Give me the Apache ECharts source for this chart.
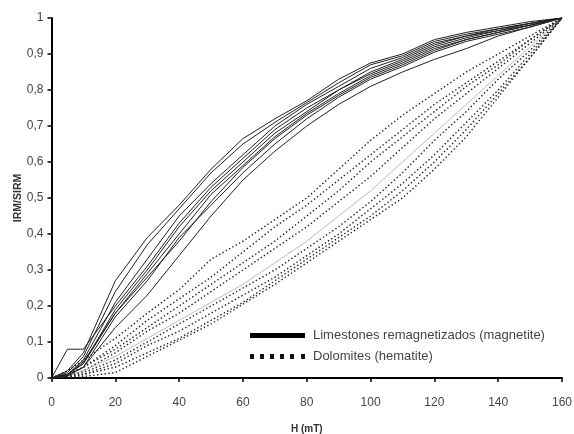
<!DOCTYPE html>
<html>
<head>
<meta charset="utf-8">
<script src="https://cdn.jsdelivr.net/npm/echarts@6/dist/echarts.min.js"></script>
<style>html,body{margin:0;padding:0;background:#fff}#c{width:574px;height:434px}</style>
</head>
<body>
<div id="c"></div>
<script>
// H values (mT)
const H = [0,5,10,20,30,40,50,60,70,80,90,100,110,120,130,140,150,160];
const xTicks = [0,20,40,60,80,100,120,140,160];
const yTicks = [0,0.1,0.2,0.3,0.4,0.5,0.6,0.7,0.8,0.9,1];

const magName = 'Limestones remagnetizados (magnetite)';
const hemName = 'Dolomites (hematite)';

// Limestones remagnetizados (magnetite) — IRM/SIRM
const mag1 = [0,0.02,0.07,0.27,0.39,0.48,0.58,0.665,0.72,0.77,0.83,0.875,0.90,0.94,0.96,0.975,0.99,1];
const mag2 = [0,0.015,0.06,0.24,0.37,0.47,0.57,0.65,0.71,0.765,0.82,0.87,0.895,0.935,0.955,0.97,0.985,1];
const mag3 = [0,0.01,0.05,0.21,0.33,0.45,0.54,0.62,0.70,0.76,0.81,0.86,0.89,0.93,0.95,0.97,0.985,1];
const mag4 = [0,0.08,0.08,0.20,0.31,0.43,0.53,0.61,0.69,0.75,0.80,0.85,0.885,0.925,0.95,0.965,0.985,1];
const mag5 = [0,0.01,0.04,0.19,0.30,0.42,0.52,0.60,0.68,0.74,0.80,0.845,0.88,0.92,0.945,0.965,0.98,1];
const mag6 = [0,0.01,0.04,0.18,0.29,0.40,0.51,0.59,0.67,0.735,0.79,0.84,0.875,0.915,0.94,0.96,0.98,1];
const mag7 = [0,0.01,0.045,0.18,0.28,0.38,0.49,0.585,0.665,0.73,0.785,0.835,0.87,0.91,0.94,0.96,0.98,1];
const mag8 = [0,0.008,0.03,0.17,0.27,0.39,0.48,0.57,0.65,0.72,0.78,0.83,0.865,0.905,0.935,0.955,0.975,1];
const mag9 = [0,0.005,0.03,0.14,0.23,0.34,0.45,0.55,0.63,0.70,0.76,0.81,0.85,0.885,0.915,0.95,0.975,1];

// Dolomites (hematite) — IRM/SIRM
const hem1 = [0,0.02,0.05,0.11,0.18,0.245,0.33,0.38,0.44,0.50,0.58,0.66,0.73,0.79,0.85,0.90,0.95,1];
const hem2 = [0,0.01,0.03,0.09,0.16,0.22,0.28,0.35,0.42,0.48,0.55,0.62,0.69,0.76,0.82,0.88,0.94,1];
const hem3 = [0,0.01,0.03,0.08,0.14,0.20,0.26,0.32,0.38,0.45,0.52,0.60,0.67,0.74,0.81,0.87,0.94,1];
const hem4 = [0,0.005,0.02,0.07,0.13,0.18,0.24,0.30,0.36,0.42,0.49,0.56,0.64,0.72,0.79,0.86,0.93,1];
const hem5 = [0,0.005,0.02,0.06,0.11,0.16,0.21,0.26,0.32,0.38,0.45,0.52,0.60,0.68,0.76,0.84,0.92,1];
const hem6 = [0,0.005,0.015,0.05,0.10,0.15,0.20,0.25,0.30,0.36,0.42,0.49,0.57,0.66,0.74,0.83,0.91,1];
const hem7 = [0,0.003,0.01,0.04,0.09,0.13,0.18,0.23,0.28,0.34,0.40,0.47,0.54,0.62,0.71,0.80,0.90,1];
const hem8 = [0,0.002,0.01,0.03,0.07,0.11,0.16,0.21,0.27,0.33,0.39,0.45,0.52,0.60,0.69,0.79,0.89,1];
const hem9 = [0,0.001,0.004,0.015,0.06,0.105,0.15,0.205,0.26,0.32,0.38,0.44,0.50,0.58,0.67,0.78,0.89,1];

const magSets = [mag1,mag2,mag3,mag4,mag5,mag6,mag7,mag8,mag9];
const hemSets = [hem1,hem2,hem3,hem4,hem5,hem6,hem7,hem8,hem9];

const pairs = arr => arr.map((v,i) => [H[i], v]);

const series = [];
hemSets.forEach((d, k) => {
  const faint = (k === 4);
  series.push({
    name: hemName, type: 'line', data: pairs(d), symbol: 'none', silent: true,
    itemStyle: {color: '#000'},
    lineStyle: faint ? {color: '#aaa', width: 0.8, type: 'solid'}
                     : {color: '#222', width: 1.4, type: [1.4, 2.4]}
  });
});
magSets.forEach(d => {
  series.push({
    name: magName, type: 'line', data: pairs(d), symbol: 'none', silent: true,
    itemStyle: {color: '#000'},
    lineStyle: {color: '#222', width: 1}
  });
});

const font = 'Liberation Sans, Arial, sans-serif';
const chart = echarts.init(document.getElementById('c'), null, {renderer: 'canvas'});
chart.setOption({
  animation: false,
  backgroundColor: '#fff',
  grid: {left: 51.5, right: 12, top: 18, bottom: 56, containLabel: false, outerBoundsMode: 'none'},
  legend: {
    orient: 'vertical', left: 245, top: 324,
    itemWidth: 55, itemHeight: 5, itemGap: 8,
    textStyle: {fontFamily: font, fontSize: 13, color: '#444', padding: [0,0,0,3]},
    data: [
      {name: magName, icon: 'rect', itemStyle: {color: '#000'}},
      {name: hemName, icon: 'path://M0,0h4v5h-4zM10,0h4v5h-4zM20,0h4v5h-4zM30,0h4v5h-4zM40,0h4v5h-4zM51,0h4v5h-4z', itemStyle: {color: '#111'}}
    ]
  },
  xAxis: {
    type: 'value', min: 0, max: 160, interval: 20,
    name: 'H (mT)', nameLocation: 'middle', nameGap: 46, nameMoveOverlap: false,
    nameTextStyle: {fontFamily: font, fontSize: 10, fontWeight: 'bold', color: '#333'},
    axisLine: {lineStyle: {color: '#000', width: 2}},
    axisTick: {length: 4, lineStyle: {color: '#000', width: 1.5}},
    axisLabel: {fontFamily: font, fontSize: 12, color: '#444', margin: 19,
      formatter: v => xTicks.includes(v) ? String(v) : ''},
    splitLine: {show: false}
  },
  yAxis: {
    type: 'value', min: 0, max: 1, interval: 0.1,
    name: 'IRM/SIRM', nameLocation: 'middle', nameGap: 28, nameMoveOverlap: false,
    nameTextStyle: {fontFamily: font, fontSize: 10.5, fontWeight: 'bold', color: '#333'},
    axisLine: {lineStyle: {color: '#000', width: 2}},
    axisTick: {length: 4, lineStyle: {color: '#000', width: 1.5}},
    axisLabel: {fontFamily: font, fontSize: 12, color: '#444', margin: 8,
      formatter: v => {
        const t = yTicks.find(y => Math.abs(y - v) < 1e-6);
        if (t === undefined) return '';
        return (Math.round(t*10)/10).toString().replace('.', ',');
      }},
    splitLine: {show: false}
  },
  series: series
});
</script>
</body>
</html>
